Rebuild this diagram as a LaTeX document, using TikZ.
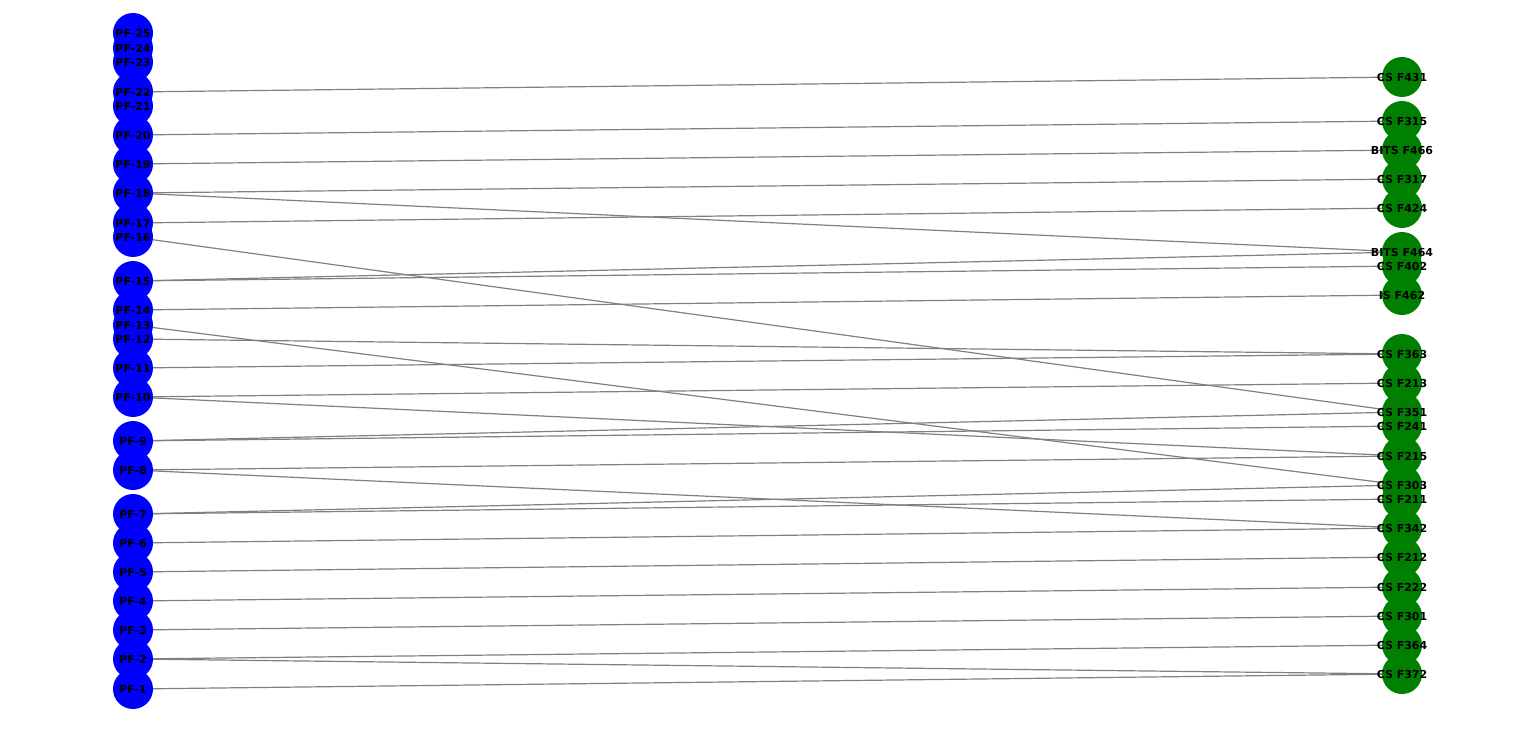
\documentclass[tikz,border=0pt]{standalone}
\usepackage{fontspec}
\setsansfont{DejaVu Sans}
\usetikzlibrary{backgrounds}
\definecolor{crsgreen}{RGB}{0,128,0}

\begin{document}
\begin{tikzpicture}[
  x=1pt, y=-1pt,
  font=\sffamily\bfseries\fontsize{11}{12}\selectfont,
  pf/.style={circle, fill=blue, minimum size=40pt, inner sep=0pt},
  crs/.style={circle, fill=crsgreen, minimum size=40pt, inner sep=0pt},
  lbl/.style={inner sep=0pt, text=black},
  edge/.style={draw=gray, line width=1.2pt}
]
\useasboundingbox (0,0) rectangle (1536,754);

% Faculty (left column)
\foreach \n/\y in {1/689, 2/659, 3/630, 4/601, 5/572, 6/543, 7/514, 8/470,
  9/441, 10/397, 11/368, 12/339, 13/325, 14/310, 15/281, 16/237, 17/223,
  18/193, 19/164, 20/135, 21/106, 22/92, 23/62, 24/48, 25/33}
  \node[pf] (pf\n) at (133,\y) {};

% Courses (right column)
\foreach \c/\t/\y in {c431/CS F431/77, c315/CS F315/121, b466/BITS F466/150,
  c317/CS F317/179, c424/CS F424/208, b464/BITS F464/252, c402/CS F402/266,
  i462/IS F462/295, c363/CS F363/354, c213/CS F213/383, c351/CS F351/412,
  c241/CS F241/426, c215/CS F215/456, c303/CS F303/485, c211/CS F211/499,
  c342/CS F342/528, c212/CS F212/557, c222/CS F222/587, c301/CS F301/616,
  c364/CS F364/645, c372/CS F372/674}
  \node[crs] (\c) at (1402,\y) {};

% Labels on top of all circles
\foreach \n in {1,...,25}
  \node[lbl] (pft\n) at ([yshift=-0.5pt]pf\n) {PF-\n};
\foreach \c/\t in {c431/CS F431, c315/CS F315, b466/BITS F466, c317/CS F317,
  c424/CS F424, b464/BITS F464, c402/CS F402, i462/IS F462, c363/CS F363,
  c213/CS F213, c351/CS F351, c241/CS F241, c215/CS F215, c303/CS F303,
  c211/CS F211, c342/CS F342, c212/CS F212, c222/CS F222, c301/CS F301,
  c364/CS F364, c372/CS F372}
  \node[lbl] (\c t) at ([yshift=-0.5pt]\c) {\t};

% Assignments
\begin{scope}[on background layer]
\foreach \a/\b in {pf22/c431, pf20/c315, pf19/b466, pf18/c317, pf18/b464,
  pf17/c424, pf16/c351, pf15/b464, pf15/c402, pf14/i462, pf13/c303,
  pf12/c363, pf11/c363, pf10/c213, pf10/c215, pf9/c351, pf9/c241,
  pf8/c215, pf8/c342, pf7/c303, pf7/c211, pf6/c342, pf5/c212, pf4/c222,
  pf3/c301, pf2/c364, pf2/c372, pf1/c372}
  \draw[edge] (\a) -- (\b);
\end{scope}
\end{tikzpicture}
\end{document}
